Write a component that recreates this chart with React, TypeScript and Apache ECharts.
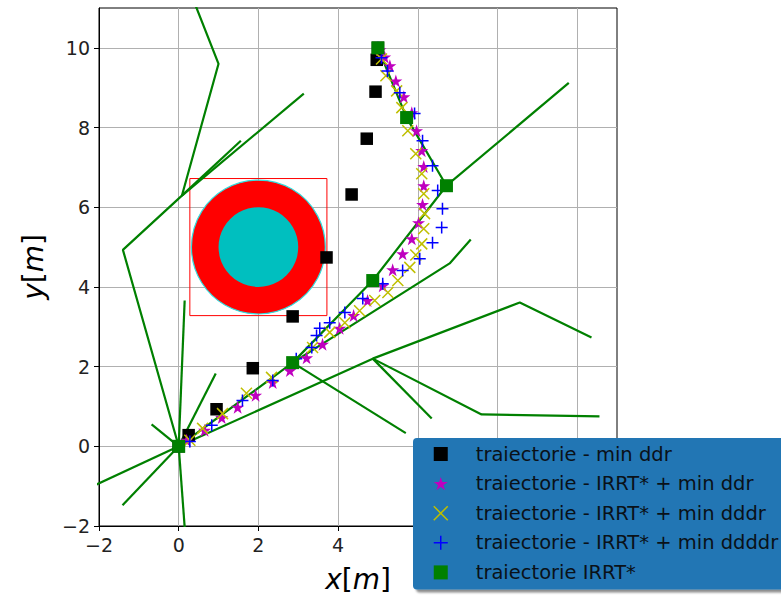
import React, { useEffect, useRef } from "react";
import * as echarts from "echarts";

// ---- data ----
const minDdr: number[][] = [
  [0, 0], [0.25, 0.28], [0.95, 0.93], [1.86, 1.96], [2.86, 3.26], [3.71, 4.74],
  [4.34, 6.32], [4.72, 7.72], [4.94, 8.9], [4.97, 9.7], [5.0, 10.0],
];
const irrtMinDdr: number[][] = [
  [0, 0], [0.2, 0.15], [0.65, 0.4], [1.08, 0.72], [1.48, 0.98], [1.93, 1.28],
  [2.36, 1.6], [2.79, 1.9], [3.21, 2.22], [3.61, 2.56], [4.04, 2.96], [4.39, 3.28],
  [4.74, 3.66], [5.12, 4.03], [5.37, 4.43], [5.62, 4.83], [5.85, 5.21], [6.02, 5.61],
  [6.12, 6.07], [6.15, 6.54], [6.15, 7.02], [6.1, 7.42], [5.97, 7.92], [5.85, 8.37],
  [5.65, 8.77], [5.45, 9.17], [5.3, 9.55], [5.17, 9.77], [5.05, 9.95],
];
const irrtMinDddr: number[][] = [
  [0, 0], [0.28, 0.15], [0.6, 0.45], [1.1, 0.82], [1.7, 1.33], [2.33, 1.73],
  [2.86, 2.1], [3.36, 2.48], [3.79, 2.86], [4.17, 3.1], [4.54, 3.4], [4.92, 3.66],
  [5.25, 3.86], [5.5, 4.16], [5.8, 4.49], [5.95, 4.8], [6.1, 5.08], [6.15, 5.46],
  [6.17, 5.84], [6.15, 6.34], [6.1, 6.84], [5.95, 7.34], [5.75, 7.92], [5.72, 8.25],
  [5.6, 8.5], [5.47, 8.92], [5.2, 9.3], [5.09, 9.72], [5.0, 10.0],
];
const irrtMinDdddr: number[][] = [
  [0, 0], [0.28, 0.12], [0.83, 0.53], [1.6, 1.15], [2.36, 1.65], [2.95, 2.2],
  [3.34, 2.48], [3.46, 2.78], [3.54, 2.96], [3.79, 3.1], [4.17, 3.36], [4.62, 3.71],
  [5.12, 4.08], [5.62, 4.41], [6.05, 4.71], [6.37, 5.11], [6.6, 5.49], [6.62, 5.96],
  [6.5, 6.42], [6.37, 7.04], [6.12, 7.67], [5.92, 8.35], [5.55, 8.87], [5.24, 9.42],
  [5.09, 9.75], [5.0, 10.0],
];
const irrtPath: number[][] = [
  [0, 0], [2.86, 2.1], [4.87, 4.16], [6.72, 6.54], [5.72, 8.25], [5.0, 10.0],
];
const treeBranches: number[][][] = [
  [[0, 0], [-1.4, 4.93], [0.08, 6.29], [1.0, 9.6], [0.33, 11.3]],
  [[0.08, 6.29], [1.56, 7.67]],
  [[0.08, 6.29], [3.14, 8.85]],
  [[0, 0], [-2.3, -1.07]],
  [[0, 0], [-1.41, -1.48]],
  [[0, 0], [0.17, -2.3]],
  [[0, 0], [-0.68, 0.55]],
  [[0, 0], [0.93, 1.83]],
  [[0, 0], [0.15, 3.66]],
  [[0, 0], [2.86, 2.1], [4.87, 4.16], [6.72, 6.54], [5.72, 8.25], [5.0, 10.0]],
  [[6.72, 6.54], [9.79, 9.12]],
  [[2.86, 2.1], [6.8, 4.59], [7.33, 5.19]],
  [[2.86, 2.1], [5.7, 0.33]],
  [[0, 0], [4.87, 2.2], [8.56, 3.61], [10.36, 2.73]],
  [[4.87, 2.2], [6.35, 0.7]],
  [[4.87, 2.2], [7.6, 0.8], [10.56, 0.75]],
];
const obstacleCenter: number[] = [2, 5];
const obstacleRadius = 1.0;
const safetyRadius = 1.68;
const safetyBoxHalf = 1.72;
const tickValues: number[] = [-2, 0, 2, 4, 6, 8, 10];
// x tick labels 6, 8, 10 are hidden behind the legend in the reference
const xTickLabelValues: number[] = [-2, 0, 2, 4];
const yTickLabelValues: number[] = [-2, 0, 2, 4, 6, 8, 10];
const seriesNames: string[] = [
  "traiectorie - min ddr",
  "traiectorie - IRRT* + min ddr",
  "traiectorie - IRRT* + min dddr",
  "traiectorie - IRRT* + min ddddr",
  "traiectorie IRRT*",
];

const STAR =
  "path://M50,0L61.23,34.55L97.55,34.55L68.17,55.9L79.39,90.45L50,69.1L20.61,90.45L31.83,55.9L2.45,34.55L38.77,34.55Z";
const CROSS = "path://M0,0L100,100M0,100L100,0";
const PLUS = "path://M50,0L50,100M0,50L100,50";

const FONT = "DejaVu Sans";

export default function App() {
  const ref = useRef<HTMLDivElement>(null);
  useEffect(() => {
    if (!ref.current) return;
    const chart = echarts.init(ref.current, undefined, { renderer: "svg" });
    const fmt = (v: number) => (v < 0 ? "\u2212" + Math.abs(v) : String(v));
    const axisCommon = (labels: number[]) => ({
      type: "value" as const,
      min: -2,
      max: 11,
      interval: 2,
      axisLine: { show: true, onZero: false, lineStyle: { color: "#000", width: 1 } },
      axisTick: { show: true, length: 5, customValues: tickValues, lineStyle: { color: "#000", width: 1 } },
      axisLabel: {
        fontFamily: FONT,
        fontSize: 19,
        color: "#222",
        margin: 9,
        customValues: labels,
        formatter: fmt,
      },
      splitLine: { show: true, lineStyle: { color: "#b0b0b0", width: 1 } },
      nameLocation: "middle" as const,
      nameTextStyle: {
        rich: {
          i: { fontFamily: FONT, fontStyle: "italic", fontSize: 28, color: "#000" },
          n: { fontFamily: FONT, fontSize: 28, color: "#000" },
        },
      },
    });
    const treeSeries = treeBranches.map((b, k) => ({
      type: "line" as const,
      name: "tree" + k,
      data: b,
      symbol: "none",
      showSymbol: false,
      clip: true,
      silent: true,
      z: 2,
      lineStyle: { color: "#008000", width: 2.2 },
    }));
    chart.setOption({
      animation: false,
      grid: {
        left: 99,
        top: 8,
        width: 518,
        height: 518,
        show: true,
        borderColor: "#000",
        borderWidth: 1,
        backgroundColor: "transparent",
      },
      xAxis: { ...axisCommon(xTickLabelValues), name: "{i|x}{n|[}{i|m}{n|]}", nameGap: 39 },
      yAxis: { ...axisCommon(yTickLabelValues), name: "{i|y}{n|[}{i|m}{n|]}", nameGap: 52 },
      legend: {
        orient: "vertical",
        left: 413,
        top: 438,
        padding: [6, 12, 7, 20],
        itemWidth: 14,
        itemHeight: 14,
        itemGap: 9.6,
        selectedMode: false,
        backgroundColor: "#2176b4",
        borderRadius: 4,
        shadowColor: "rgba(0,0,0,0.45)",
        shadowBlur: 2,
        shadowOffsetX: 3,
        shadowOffsetY: 3,
        textStyle: {
          fontFamily: FONT,
          fontSize: 19.5,
          color: "#0a1118",
          lineHeight: 20,
          padding: [0, 0, 0, 23],
        },
        data: [
          { name: seriesNames[0], icon: "rect" },
          { name: seriesNames[1], icon: STAR },
          { name: seriesNames[2], icon: CROSS, itemStyle: { borderWidth: 1.5, borderColor: "#bfbf00" } },
          { name: seriesNames[3], icon: PLUS, itemStyle: { borderWidth: 1.5, borderColor: "#0000ff" } },
          { name: seriesNames[4], icon: "rect" },
        ],
      },
      series: [
        {
          type: "custom",
          name: "obstacle",
          data: [obstacleCenter],
          z: 1,
          silent: true,
          clip: true,
          renderItem: (_p: any, api: any) => {
            const c = api.coord([api.value(0), api.value(1)]);
            const rs = api.size([safetyRadius, safetyRadius]);
            const ri = api.size([obstacleRadius, obstacleRadius]);
            const rb = api.size([safetyBoxHalf, safetyBoxHalf]);
            return {
              type: "group",
              children: [
                {
                  type: "circle",
                  shape: { cx: c[0], cy: c[1], r: rs[0] },
                  style: { fill: "#ff0000", stroke: "#33dddd", lineWidth: 1.2 },
                },
                {
                  type: "circle",
                  shape: { cx: c[0], cy: c[1], r: ri[0] },
                  style: { fill: "#00bfbf" },
                },
                {
                  type: "rect",
                  shape: { x: c[0] - rb[0], y: c[1] - rb[1], width: 2 * rb[0], height: 2 * rb[1] },
                  style: { fill: "none", stroke: "#ff0000", lineWidth: 1 },
                },
              ],
            };
          },
        },
        ...treeSeries,
        {
          type: "scatter",
          name: seriesNames[0],
          data: minDdr,
          symbol: "rect",
          symbolSize: 12.5,
          z: 3,
          itemStyle: { color: "#000000", opacity: 1 },
        },
        {
          type: "scatter",
          name: seriesNames[1],
          data: irrtMinDdr,
          symbol: STAR,
          symbolSize: 13,
          z: 3,
          itemStyle: { color: "#bf00bf", opacity: 1 },
        },
        {
          type: "scatter",
          name: seriesNames[2],
          data: irrtMinDddr,
          symbol: CROSS,
          symbolSize: 11,
          z: 3,
          itemStyle: { color: "#bfbf00", borderColor: "#bfbf00", borderWidth: 1.5, opacity: 1 },
        },
        {
          type: "scatter",
          name: seriesNames[3],
          data: irrtMinDdddr,
          symbol: PLUS,
          symbolSize: 12,
          z: 3,
          itemStyle: { color: "#0000ff", borderColor: "#0000ff", borderWidth: 1.5, opacity: 1 },
        },
        {
          type: "scatter",
          name: seriesNames[4],
          data: irrtPath,
          symbol: "rect",
          symbolSize: 13,
          z: 3,
          itemStyle: { color: "#008000", opacity: 1 },
        },
      ],
    });
    return () => chart.dispose();
  }, []);
  return (
    <div
      ref={ref}
      style={{ position: "absolute", left: 0, top: 0, width: 781, height: 598 }}
    />
  );
}
